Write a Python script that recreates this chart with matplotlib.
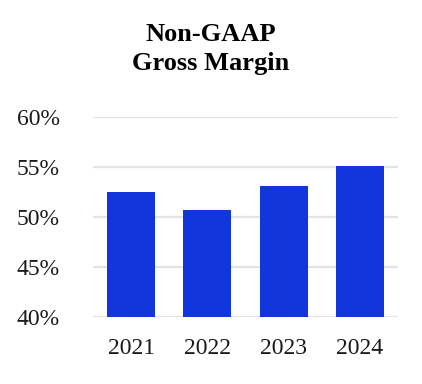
import matplotlib
matplotlib.use('Agg')
import matplotlib.pyplot as plt
import numpy as np

years = ['2021', '2022', '2023', '2024']
margin = [52.5, 50.7, 53.1, 55.1]
yticks = [40, 45, 50, 55, 60]

plt.rcParams['font.family'] = ['Liberation Serif', 'DejaVu Serif']

fig = plt.figure(figsize=(4.22, 3.84), dpi=100)
ax = fig.add_axes([93/422, 67/384, 305/422, 200.3/384])

x = np.arange(len(years))
ax.bar(x, margin, width=0.63, color='#1036dc', zorder=3)

ax.set_xlim(-0.5, 3.5)
ax.set_ylim(40, 60)
ax.set_yticks(yticks)
ax.set_yticklabels([f'{v}%' for v in yticks], fontsize=17, color='#1a1a1a')
ax.set_xticks(x)
ax.set_xticklabels(years, fontsize=17, color='#1a1a1a')
ax.grid(axis='y', color='#e3e3e3', linewidth=1.6, zorder=0)
ax.tick_params(length=0)
ax.tick_params(axis='y', pad=24)  # points
ax.tick_params(axis='x', pad=15)
for s in ax.spines.values():
    s.set_visible(False)

fig.text(0.5, 1 - 49/384, 'Non-GAAP\nGross Margin', ha='center', va='center',
         fontsize=19, fontweight='bold', linespacing=1.3)

fig.savefig('out.png', dpi=100)
